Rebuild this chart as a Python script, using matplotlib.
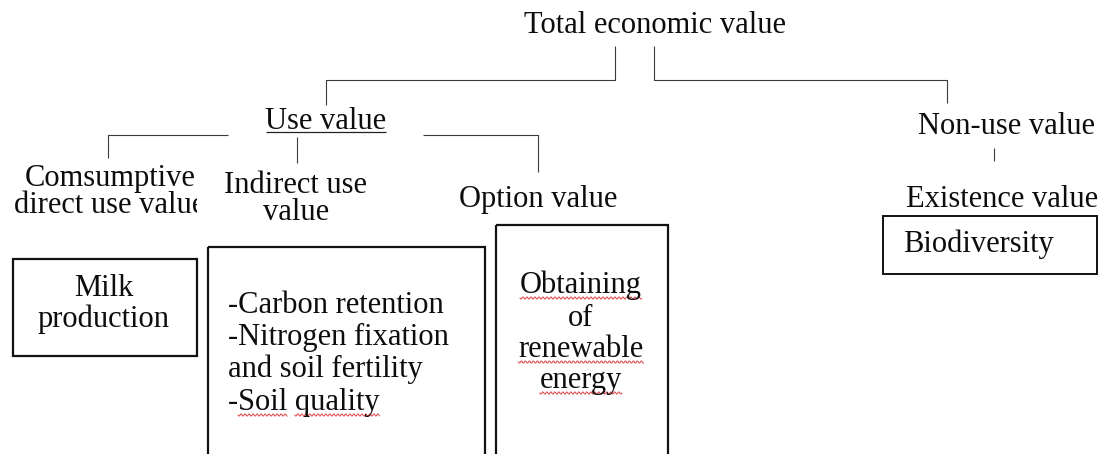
import numpy as np
import matplotlib
matplotlib.use("Agg")
import matplotlib.pyplot as plt
from matplotlib.patches import Rectangle
from matplotlib.transforms import Bbox, TransformedBbox
from matplotlib.font_manager import FontProperties

# Textos do diagrama
raiz = "Total economic value"
ramos = ["Use value", "Non-use value"]
uso_titulos = [["Comsumptive", "direct use value"], ["Indirect use", "value"], ["Option value"]]
nao_uso_titulo = "Existence value"
caixa_leite = ["Milk", "production"]
caixa_indireto = ["-Carbon retention", "-Nitrogen fixation", "and soil fertility", "-Soil quality"]
caixa_opcao = ["Obtaining", "of", "renewable", "energy"]
caixa_bio = "Biodiversity"
# palavras com sublinhado ondulado (corretor ortografico)
sublinhadas = {"-Soil quality": ["Soil", "quality"],
               "Obtaining": ["Obtaining"], "renewable": ["renewable"], "energy": ["energy"]}

FONTE = "Liberation Serif"
TAM = 22
COR_TXT = "#0d0d0d"
COR_LINHA = "#3a3a3a"

fig = plt.figure(figsize=(10.99, 4.54), dpi=100)
ax = fig.add_axes([0, 0, 1, 1])
ax.set_xlim(0, 1099)
ax.set_ylim(454, 0)
ax.axis("off")

prop = FontProperties(family=FONTE, size=TAM)
fig.canvas.draw()
renderer = fig.canvas.get_renderer()


def largura(s):
    w, h, d = renderer.get_text_width_height_descent(s, prop, ismath=False)
    return w


def texto(x, y, s, ha="center", clip=None):
    t = ax.text(x, y, s, ha=ha, va="baseline", fontproperties=prop, color=COR_TXT)
    if clip is not None:
        t.set_clip_box(TransformedBbox(Bbox(clip), ax.transData))
        t.set_clip_on(True)
    if s in sublinhadas:
        x0 = x - largura(s) / 2 if ha == "center" else x
        for palavra in sublinhadas[s]:
            i = s.index(palavra)
            a = x0 + largura(s[:i])
            b = a + largura(palavra)
            xs = np.arange(a, b, 0.5)
            ys = y + 5 + 1.1 * np.sin((xs - a) * np.pi / 2)
            ax.plot(xs, ys, color="#e04040", lw=0.7)
    return t


def linha(xs, ys, lw=0.8, cor=COR_LINHA):
    ax.plot(xs, ys, color=cor, lw=lw, solid_capstyle="butt")


def caixa(x0, y0, x1, y1, lw=1.6):
    ax.add_patch(Rectangle((x0, y0), x1 - x0, y1 - y0, fill=False,
                           edgecolor="#111111", lw=lw, clip_on=True))


# conectores
linha([326, 326, 615, 615], [105, 80, 80, 46])
linha([654, 654, 947, 947], [46, 80, 80, 103])
linha([108, 108, 228], [158, 135, 135])
linha([297, 297], [137, 163])
linha([423, 538, 538], [135, 135, 172])
linha([994, 994], [148, 161])
linha([266, 386], [132, 132], lw=0.9, cor="#222222")

# titulos
texto(655, 33, raiz)
texto(326, 129, ramos[0])
texto(1007, 134, ramos[1])
texto(110, 186, uso_titulos[0][0])
texto(110, 213, uso_titulos[0][1], clip=[[0, 0], [197, 454]])
texto(296, 193, uso_titulos[1][0])
texto(296, 220, uso_titulos[1][1])
texto(538, 207, uso_titulos[2][0])
texto(906, 207, nao_uso_titulo, ha="left")

# caixas
caixa(13, 259, 197, 356)
caixa(208, 247, 485, 480)
caixa(496, 225, 668, 480)
caixa(883, 216, 1097, 274, lw=1.4)

for s, y in zip(caixa_leite, [296, 327]):
    texto(104, y, s)
for s, y in zip(caixa_indireto, [313, 345, 377, 410]):
    texto(228, y, s, ha="left")
for s, y in zip(caixa_opcao, [293, 326, 357, 388]):
    texto(581, y, s)
texto(903, 252, caixa_bio, ha="left")

fig.savefig("out.png", dpi=100, facecolor="white")
